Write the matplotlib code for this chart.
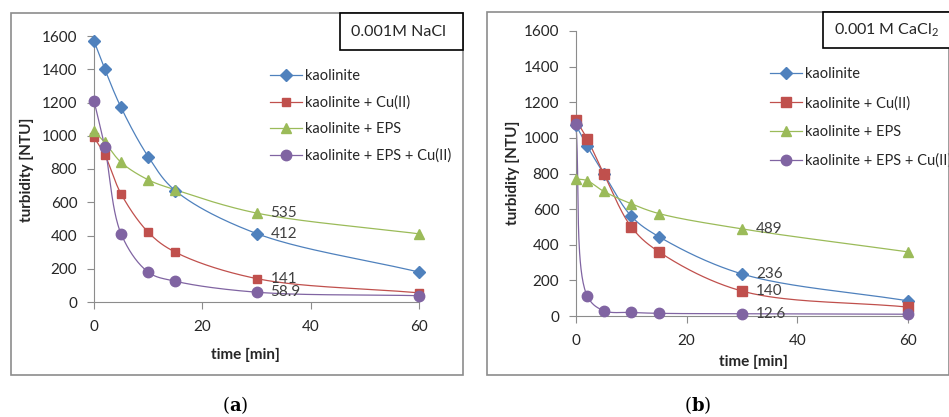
import numpy as np
import matplotlib
matplotlib.use("Agg")
import matplotlib.pyplot as plt
from matplotlib.patches import Rectangle

W, H = 949, 417

time_min = [0, 2, 5, 10, 15, 30, 60]
series_names = ["kaolinite", "kaolinite + Cu(II)", "kaolinite + EPS", "kaolinite + EPS + Cu(II)"]

# 0.001 M NaCl
nacl_kaol = [1570, 1400, 1170, 875, 670, 412, 180]
nacl_cu = [990, 885, 650, 420, 300, 141, 55]
nacl_eps = [1030, 960, 840, 735, 675, 535, 410]
nacl_eps_cu = [1210, 930, 410, 180, 125, 58.9, 38]

# 0.001 M CaCl2
cacl_kaol = [1070, 955, 800, 560, 445, 236, 85]
cacl_cu = [1100, 995, 800, 500, 360, 140, 50]
cacl_eps = [770, 760, 700, 630, 575, 489, 360]
cacl_eps_cu = [1080, 115, 30, 20, 15, 12.6, 10]

colors = ["#4F81BD", "#C0504D", "#9BBB59", "#8064A2"]
markers = ["D", "s", "^", "o"]

plt.rcParams["font.family"] = ["Lato", "DejaVu Sans"]
plt.rcParams["mathtext.fontset"] = "custom"
plt.rcParams["mathtext.rm"] = "Lato"
plt.rcParams["mathtext.it"] = "Lato:italic"
plt.rcParams["mathtext.bf"] = "DejaVu Serif:bold"
FS = 10.5
TXT = "#262626"


def fx(x):
    return x / W


def fy(y):
    return 1 - y / H


def smooth(xs, ys, sx, sy, n=40):
    # centripetal Catmull-Rom through the points, in pixel-like units
    p = np.column_stack([np.array(xs, float) * sx, np.array(ys, float) * sy])
    p = np.vstack([2 * p[0] - p[1], p, 2 * p[-1] - p[-2]])
    out = []
    for i in range(1, len(p) - 2):
        p0, p1, p2, p3 = p[i - 1], p[i], p[i + 1], p[i + 2]
        t0 = 0.0
        t1 = t0 + np.linalg.norm(p1 - p0) ** 0.5
        t2 = t1 + np.linalg.norm(p2 - p1) ** 0.5
        t3 = t2 + np.linalg.norm(p3 - p2) ** 0.5
        t = np.linspace(t1, t2, n)[:, None]
        a1 = (t1 - t) / (t1 - t0) * p0 + (t - t0) / (t1 - t0) * p1
        a2 = (t2 - t) / (t2 - t1) * p1 + (t - t1) / (t2 - t1) * p2
        a3 = (t3 - t) / (t3 - t2) * p2 + (t - t2) / (t3 - t2) * p3
        b1 = (t2 - t) / (t2 - t0) * a1 + (t - t0) / (t2 - t0) * a2
        b2 = (t3 - t) / (t3 - t1) * a2 + (t - t1) / (t3 - t1) * a3
        out.append((t2 - t) / (t2 - t1) * b1 + (t - t1) / (t2 - t1) * b2)
    out = np.vstack(out)
    return out[:, 0] / sx, out[:, 1] / sy


def panel(fig, box, ax_px, data, msizes, title, title_box, ylab_px, xlab_px, tag, tag_x, legend_px, lspace):
    # outer frame of the panel
    x0, y0, x1, y1 = box
    fig.patches.append(Rectangle((fx(x0), fy(y1)), fx(x1 - x0), (y1 - y0) / H, transform=fig.transFigure,
                                 fill=False, edgecolor="#8c8c8c", linewidth=1.2))
    l, t, r, b = ax_px
    ax = fig.add_axes([fx(l), fy(b), fx(r - l), (b - t) / H])
    ax.set_xlim(0, 60)
    ax.set_ylim(0, 1600)
    sx = (r - l) / 60
    sy = (b - t) / 1600
    for vals, c, m, ms, name in zip(data, colors, markers, msizes, series_names):
        cx, cy = smooth(time_min, vals, sx, sy)
        ax.plot(cx, cy, color=c, lw=0.9, clip_on=False)
        ax.plot(time_min, vals, linestyle="none", marker=m, color=c, markersize=ms,
                markeredgecolor=c, clip_on=False, zorder=3)
        ax.plot([], [], color=c, lw=0.9, marker=m, markersize=ms, label=name)
    # values printed next to the 30 min points
    for vals in data:
        v = vals[5]
        ax.annotate(f"{v:g}", (30, v), xytext=(10, 0), textcoords="offset points",
                    va="center", ha="left", fontsize=FS + 0.5, color="#404040")
    ax.set_xticks([0, 20, 40, 60])
    ax.set_yticks(range(0, 1601, 200))
    for s in ["top", "right"]:
        ax.spines[s].set_visible(False)
    for s in ["left", "bottom"]:
        ax.spines[s].set_color("#8c8c8c")
    ax.tick_params(axis="both", colors="#8c8c8c", labelcolor=TXT, labelsize=FS + 0.5, length=5)
    ax.tick_params(axis="y", pad=7)
    ax.tick_params(axis="x", pad=8)
    ax.patch.set_alpha(0)
    fig.text(fx(ylab_px[0]), fy(ylab_px[1]), "turbidity [NTU]", rotation=90, ha="center", va="center",
             fontsize=FS + 0.5, fontweight="bold", color=TXT)
    fig.text(fx(xlab_px[0]), fy(xlab_px[1]), "time [min]", ha="center", va="center",
             fontsize=FS + 0.5, fontweight="bold", color=TXT)
    tx0, ty0, tx1, ty1 = title_box
    fig.patches.append(Rectangle((fx(tx0), fy(ty1)), fx(tx1 - tx0), (ty1 - ty0) / H, transform=fig.transFigure,
                                 facecolor="white", edgecolor="black", linewidth=1.2, zorder=5))
    fig.text(fx(tx0 + 11), fy((ty0 + ty1) / 2), title, ha="left", va="center", fontsize=11.5,
             color=TXT, zorder=6)
    fig.text(fx(tag_x), fy(405), tag, ha="center", va="center", fontsize=13,
             family="DejaVu Serif", color="black")
    leg = ax.legend(loc="upper left", bbox_to_anchor=(fx(legend_px[0]), fy(legend_px[1])),
                    bbox_transform=fig.transFigure, frameon=False, fontsize=FS,
                    handlelength=2.2, handletextpad=0.15, labelspacing=lspace, borderpad=0)
    for txt in leg.get_texts():
        txt.set_color(TXT)
    return ax


fig = plt.figure(figsize=(W / 100, H / 100), dpi=100)

panel(fig, (11, 13, 463, 375), (94, 36, 419, 302),
      [nacl_kaol, nacl_cu, nacl_eps, nacl_eps_cu], [6, 5.5, 7.5, 7.5],
      "0.001M NaCl", (340, 13, 463, 50), (27, 170), (245, 355),
      r"($\mathbf{a}$)", 235, (263, 62), 0.85)

panel(fig, (487, 12, 949, 375), (576, 31, 908, 316),
      [cacl_kaol, cacl_cu, cacl_eps, cacl_eps_cu], [6, 7.5, 7.5, 7.5],
      "0.001 M CaCl$_2$", (823, 12, 955, 48), (513, 173), (753, 362),
      r"($\mathbf{b}$)", 698, (763, 60), 1.0)

fig.savefig("out.png", dpi=100)
